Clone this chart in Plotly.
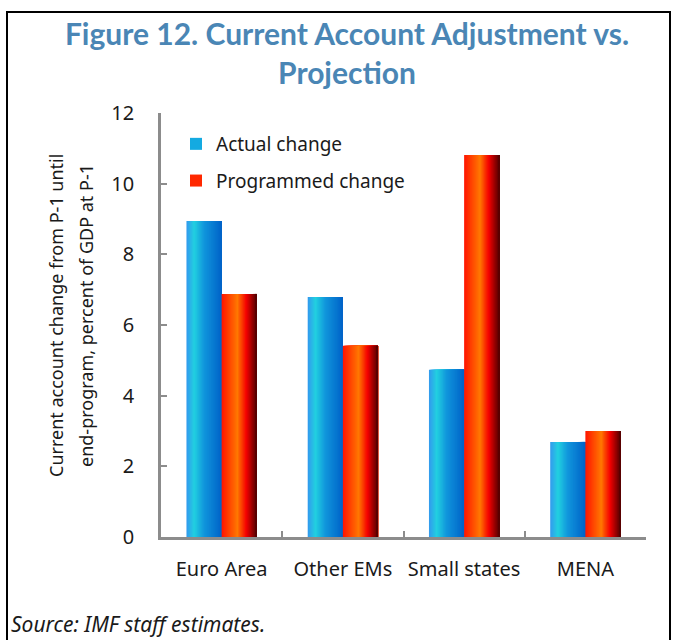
import plotly.graph_objects as go

categories = ["Euro Area", "Other EMs", "Small states", "MENA"]
actual_change = [8.94, 6.79, 4.73, 2.69]
programmed_change = [6.88, 5.41, 10.81, 3.0]
series_names = ["Actual change", "Programmed change"]
y_ticks = [0, 2, 4, 6, 8, 10, 12]

BLUE_STOPS = [(0.0, (51, 153, 238)), (0.22, (34, 208, 224)), (0.5, (17, 150, 220)), (1.0, (0, 98, 200))]
RED_STOPS = [(0.0, (255, 20, 0)), (0.45, (255, 120, 0)), (0.7, (245, 0, 0)), (1.0, (80, 0, 0))]


def interp(stops, t):
    for (t0, c0), (t1, c1) in zip(stops[:-1], stops[1:]):
        if t0 <= t <= t1:
            f = (t - t0) / (t1 - t0) if t1 > t0 else 0
            c = [round(a + (b - a) * f) for a, b in zip(c0, c1)]
            return "rgb(%d,%d,%d)" % tuple(c)
    c = stops[-1][1]
    return "rgb(%d,%d,%d)" % c


fig = go.Figure()

BAR_W = 0.29
N = 30
series = [(actual_change, BLUE_STOPS, -BAR_W, "rgb(20,170,225)"),
          (programmed_change, RED_STOPS, 0.0, "rgb(255,40,0)")]
for (vals, stops, start, legcol), name in zip(series, series_names):
    step = BAR_W / N
    for k in range(N):
        t = (k + 0.5) / N
        fig.add_trace(go.Bar(
            x=categories, y=vals,
            offset=start + k * step, width=BAR_W - k * step,
            marker=dict(color=interp(stops, t), line=dict(width=0)),
            name=name, legendgroup=name, showlegend=False,
            hoverinfo="skip" if k else None,
        ))
    # legend entry
    fig.add_trace(go.Bar(
        x=[None], y=[None], name=name, legendgroup=name,
        marker=dict(color=legcol, line=dict(width=0)), showlegend=True,
    ))

axis_col = "#8c8c8c"
font_body = "Noto Sans, Open Sans, sans-serif"
PL, PR, PT, PB = 161, 646, 113, 537
PW, PH = PR - PL, PB - PT


def px(x):
    return (x - PL) / PW


def py(y):
    return (PB - y) / PH


fig.update_layout(
    width=677, height=640,
    margin=dict(l=PL, r=677 - PR, t=PT, b=640 - PB, autoexpand=False),
    paper_bgcolor="white", plot_bgcolor="white",
    barmode="overlay",
    font=dict(family=font_body, size=19, color="#1a1a1a"),
    title=dict(
        text="<b>Figure 12. Current Account Adjustment vs.<br>Projection</b>",
        x=347 / 677, xanchor="center", xref="container", y=1 - 45 / 640, yanchor="top",
        yref="container",
        font=dict(family="Lato, sans-serif", size=30, color="#4a86b5"),
    ),
    legend=dict(
        x=px(176), y=py(125), xanchor="left", yanchor="top",
        bgcolor="rgba(0,0,0,0)", font=dict(size=19),
        tracegroupgap=9, itemwidth=30,
    ),
    xaxis=dict(
        type="category", range=[-0.5, 3.5],
        showline=True, linecolor=axis_col, linewidth=2.5,
        ticks="inside", tickson="boundaries", ticklen=6, tickcolor=axis_col, tickwidth=1.5,
        showgrid=False, tickfont=dict(size=20), ticklabelstandoff=12,
        tickangle=0, automargin=False,
    ),
    yaxis=dict(
        range=[0, 12], tickvals=y_ticks,
        showline=True, linecolor=axis_col, linewidth=2.5,
        ticks="inside", ticklen=6, tickcolor=axis_col, tickwidth=1.5,
        showgrid=False, zeroline=False, tickfont=dict(size=20),
        ticklabelstandoff=20, automargin=False,
    ),
    annotations=[
        dict(text="Current account change from P-1 until",
             textangle=-90, xref="paper", yref="paper", x=px(56), y=py(316),
             xanchor="center", yanchor="middle", showarrow=False, font=dict(size=18)),
        dict(text="end-program, percent of GDP at P-1",
             textangle=-90, xref="paper", yref="paper", x=px(86), y=py(316),
             xanchor="center", yanchor="middle", showarrow=False, font=dict(size=18)),
        dict(text="<i>Source: IMF staff estimates.</i>", xref="paper", yref="paper",
             x=px(9), y=py(624), xanchor="left", yanchor="middle",
             showarrow=False, font=dict(size=21)),
    ],
    shapes=[
        dict(type="rect", xref="paper", yref="paper",
             x0=px(7), x1=px(670), y0=py(660), y1=py(12),
             line=dict(color="black", width=2), fillcolor="rgba(0,0,0,0)", layer="below"),
    ],
)

fig.write_html(
    "out.html",
    config={"displayModeBar": False},
    post_script="document.body.style.margin='0';document.body.style.padding='0';"
                "document.documentElement.style.overflow='hidden';",
)
